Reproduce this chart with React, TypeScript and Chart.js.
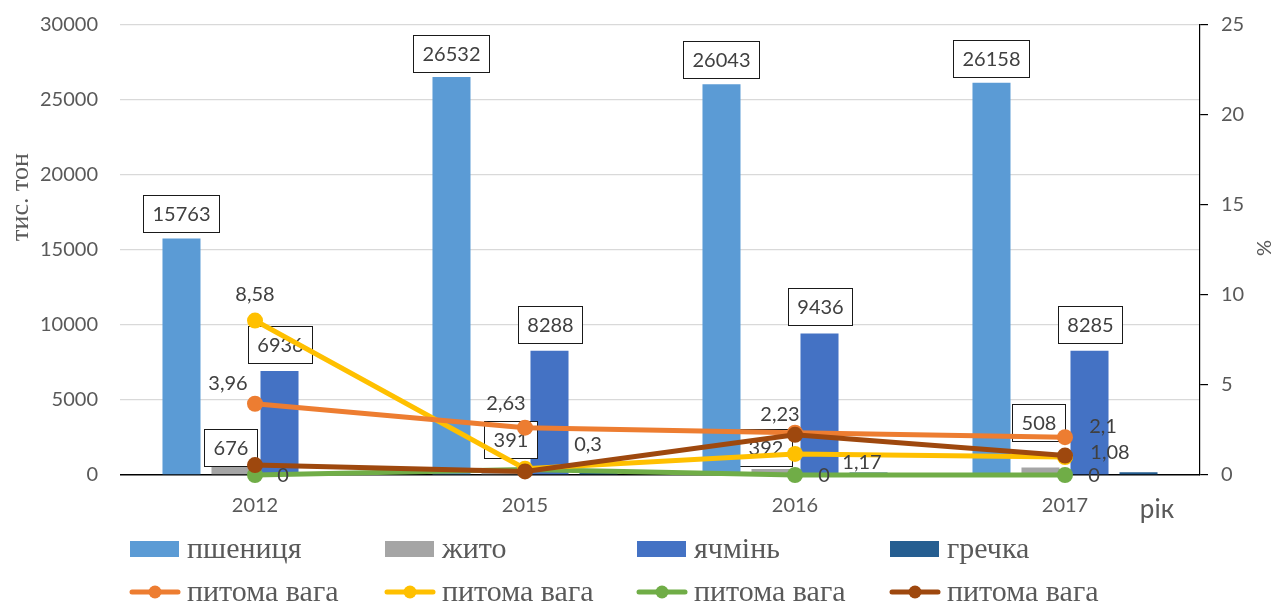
import React, { useEffect, useRef } from 'react';
import { Chart, registerables } from 'chart.js';

Chart.register(...registerables);

// ---------- data ----------
const categories = ['2012', '2015', '2016', '2017'];
const wheat = [15763, 26532, 26043, 26158];
const rye = [676, 391, 392, 508];
const barley = [6936, 8288, 9436, 8285];
const buckwheat = [180, 170, 175, 180];

const shareOrange = [3.96, 2.63, 2.35, 2.1];
const shareYellow = [8.58, 0.35, 1.17, 1.0];
const shareGreen = [0, 0.3, 0, 0];
const shareBrown = [0.55, 0.2, 2.23, 1.08];

const leftTicks = [0, 5000, 10000, 15000, 20000, 25000, 30000];
const rightTicks = [0, 5, 10, 15, 20, 25];

const legendNames = ['пшениця', 'жито', 'ячмінь', 'гречка', 'питома вага', 'питома вага', 'питома вага', 'питома вага'];

// ---------- styles ----------
const SANS = 'Lato, "Open Sans", sans-serif';
const SERIF = '"Liberation Serif", "Times New Roman", serif';
const TXT = '#595959';
const LBL = '#404040';

const C_WHEAT = '#5B9BD5';
const C_RYE = '#A5A5A5';
const C_BARLEY = '#4472C4';
const C_BUCK = '#255E91';
const C_ORANGE = '#ED7D31';
const C_YELLOW = '#FFC000';
const C_GREEN = '#70AD47';
const C_BROWN = '#9E480E';

// label placement per dataset index (boxed bar labels / free line labels)
type Off = [number, number] | null;
const boxOffsets: Record<number, Off[]> = {
  0: [[0, 1], [0, 3], [0, 2], [0, 2]],
  1: [[0, 9], [10, -3], [-5, 5], [-2, -18]],
  2: [[0, 0], [0, 0], [0, 0], [0, 0]],
};
const lineOffsets: Record<number, Off[]> = {
  4: [[-27, -20], [-19, -24], null, [38, -11]],
  5: [[0, -26], null, [67, 9], null],
  6: [[28, 1], [63, -25], [29, 1], [29, 1]],
  7: [null, null, [-15, -20], [45, -3]],
};

const fmt = (v: number) => String(v).replace('.', ',');

const labelPlugin = {
  id: 'valueLabels',
  afterDatasetDraw(chart: any, args: any) {
    const i = args.index;
    const boxes = boxOffsets[i];
    if (!boxes) return;
    const ds = chart.data.datasets[i];
    const meta = args.meta;
    const ctx = chart.ctx as CanvasRenderingContext2D;
    ctx.save();
    ctx.font = `20px ${SANS}`;
    ctx.textAlign = 'center';
    ctx.textBaseline = 'middle';
    meta.data.forEach((el: any, j: number) => {
      const off = boxes[j];
      if (!off) return;
      const [dx, dy] = off;
      const text = fmt(ds.data[j]);
      const tw = ctx.measureText(text).width;
      const w = Math.round(tw + 18);
      const h = 37;
      const cx = el.x + dx;
      const bottom = el.y - 8 + dy;
      const x0 = Math.round(cx - w / 2) + 0.5;
      const y0 = Math.round(bottom - h) + 0.5;
      ctx.fillStyle = '#ffffff';
      ctx.fillRect(x0, y0, w, h);
      ctx.strokeStyle = '#1a1a1a';
      ctx.lineWidth = 1;
      ctx.strokeRect(x0, y0, w, h);
      ctx.fillStyle = LBL;
      ctx.fillText(text, x0 + w / 2, y0 + h / 2 + 1);
    });
    ctx.restore();
  },
  afterDatasetsDraw(chart: any) {
    const ctx = chart.ctx as CanvasRenderingContext2D;
    ctx.save();
    ctx.font = `20px ${SANS}`;
    ctx.textAlign = 'center';
    ctx.textBaseline = 'middle';
    ctx.fillStyle = LBL;
    chart.data.datasets.forEach((ds: any, i: number) => {
      const lines = lineOffsets[i];
      if (!lines) return;
      const meta = chart.getDatasetMeta(i);
      meta.data.forEach((el: any, j: number) => {
        const off = lines[j];
        if (!off) return;
        ctx.fillText(fmt(ds.data[j]), el.x + off[0], el.y + off[1]);
      });
    });
    ctx.restore();
  },
  afterDraw(chart: any) {
    const ctx = chart.ctx as CanvasRenderingContext2D;
    const area = chart.chartArea;
    ctx.save();
    // axis titles
    ctx.fillStyle = TXT;
    ctx.textAlign = 'center';
    ctx.textBaseline = 'middle';
    ctx.font = `26px ${SERIF}`;
    ctx.save();
    ctx.translate(21, 197);
    ctx.rotate(-Math.PI / 2);
    ctx.fillText('тис. тон', 0, 0);
    ctx.restore();
    ctx.font = `20px ${SANS}`;
    ctx.save();
    ctx.translate(1265, 248);
    ctx.rotate(-Math.PI / 2);
    ctx.fillText('%', 0, 0);
    ctx.restore();
    ctx.font = `26px ${SANS}`;
    ctx.fillText('рік', area.right - 43, area.bottom + 35);

    // legend
    const colX = [130, 385, 637, 890];
    const rowY = [549, 592];
    ctx.textAlign = 'left';
    ctx.font = `30px ${SERIF}`;
    chart.data.datasets.forEach((ds: any, i: number) => {
      const row = i < 4 ? 0 : 1;
      const col = i % 4;
      const x = colX[col];
      const y = rowY[row];
      const color = ds.backgroundColor as string;
      if (row === 0) {
        ctx.fillStyle = color;
        ctx.fillRect(x, y - 8, 49, 16);
      } else {
        ctx.strokeStyle = ds.borderColor;
        ctx.lineWidth = 5;
        ctx.lineCap = 'round';
        ctx.beginPath();
        ctx.moveTo(x + 2, y);
        ctx.lineTo(x + 48, y);
        ctx.stroke();
        ctx.fillStyle = ds.borderColor;
        ctx.beginPath();
        ctx.arc(x + 25, y, 6.5, 0, Math.PI * 2);
        ctx.fill();
      }
      ctx.fillStyle = TXT;
      ctx.fillText(legendNames[i], x + 57, y + 1);
    });
    ctx.restore();
  },
};

function lineDs(label: string, data: number[], color: string, order: number) {
  return {
    type: 'line' as const,
    label,
    data,
    yAxisID: 'y1',
    borderColor: color,
    backgroundColor: color,
    borderWidth: 5,
    pointRadius: 8,
    pointBorderWidth: 0,
    pointBackgroundColor: color,
    tension: 0,
    clip: false,
    order,
  };
}

export default function App() {
  const ref = useRef<HTMLCanvasElement>(null);
  useEffect(() => {
    document.body.style.margin = '0';
    const barCommon = {
      type: 'bar' as const,
      yAxisID: 'y',
      categoryPercentage: 0.726,
      barPercentage: 0.776,
      order: 10,
    };
    const chart = new Chart(ref.current as HTMLCanvasElement, {
      type: 'bar',
      data: {
        labels: categories,
        datasets: [
          { ...barCommon, label: legendNames[0], data: wheat, backgroundColor: C_WHEAT },
          { ...barCommon, label: legendNames[1], data: rye, backgroundColor: C_RYE },
          { ...barCommon, label: legendNames[2], data: barley, backgroundColor: C_BARLEY },
          { ...barCommon, label: legendNames[3], data: buckwheat, backgroundColor: C_BUCK },
          lineDs(legendNames[4], shareOrange, C_ORANGE, 3),
          lineDs(legendNames[5], shareYellow, C_YELLOW, 4),
          lineDs(legendNames[6], shareGreen, C_GREEN, 5),
          lineDs(legendNames[7], shareBrown, C_BROWN, 2),
        ] as any,
      },
      options: {
        responsive: false,
        animation: false,
        layout: { padding: { top: 25, left: 0, right: 0, bottom: 0 } },
        plugins: {
          legend: { display: false },
          tooltip: { enabled: false },
        },
        scales: {
          x: {
            grid: { display: false },
            border: { display: false },
            ticks: { color: TXT, font: { family: SANS, size: 20 }, padding: 11 },
            afterFit: (s: any) => { s.height = 130; },
          },
          y: {
            position: 'left',
            min: leftTicks[0],
            max: leftTicks[leftTicks.length - 1],
            afterBuildTicks: (s: any) => { s.ticks = leftTicks.map((v) => ({ value: v })); },
            ticks: { color: TXT, font: { family: SANS, size: 20 }, padding: 0, callback: (v: any) => String(v) },
            grid: {
              color: (c: any) => (c.tick && c.tick.value === 0 ? '#000000' : '#D9D9D9'),
              lineWidth: (c: any) => (c.tick && c.tick.value === 0 ? 1.5 : 1.2),
              drawTicks: true,
              tickLength: 22,
              tickColor: 'rgba(0,0,0,0)',
            },
            border: { display: false },
            afterFit: (s: any) => { s.width = 120; },
          },
          y1: {
            position: 'right',
            min: rightTicks[0],
            max: rightTicks[rightTicks.length - 1],
            afterBuildTicks: (s: any) => { s.ticks = rightTicks.map((v) => ({ value: v })); },
            ticks: { color: TXT, font: { family: SANS, size: 20 }, padding: 13, callback: (v: any) => String(v) },
            grid: { drawOnChartArea: false, drawTicks: true, tickLength: 8, color: '#000000', lineWidth: 1.2 },
            border: { display: true, color: '#000000', width: 1.2 },
            afterFit: (s: any) => { s.width = 77; },
          },
        },
      } as any,
      plugins: [labelPlugin],
    });
    return () => chart.destroy();
  }, []);
  return (
    <div style={{ width: 1277, height: 605 }}>
      <canvas ref={ref} width={1277} height={605} style={{ display: 'block' }} />
    </div>
  );
}
